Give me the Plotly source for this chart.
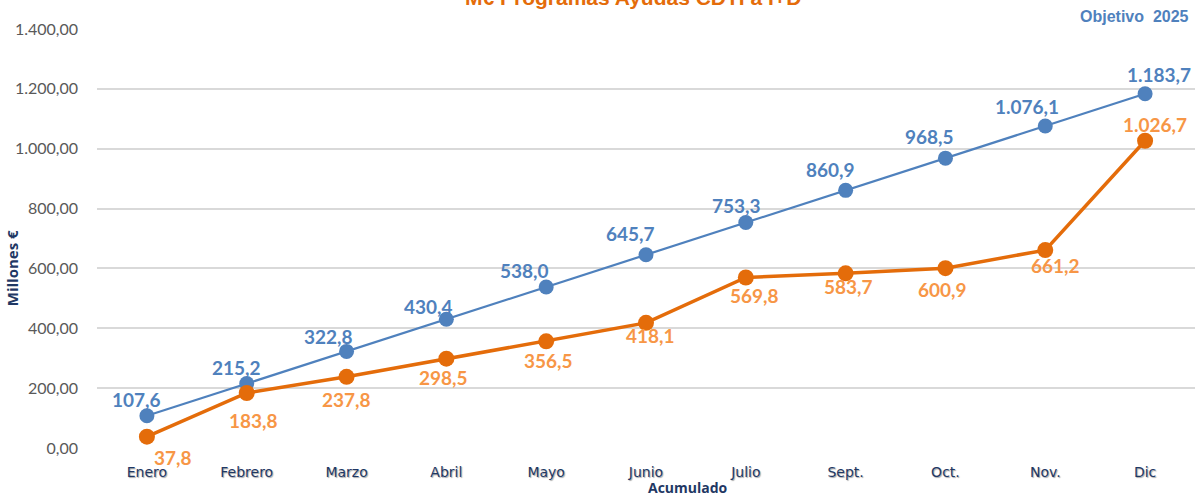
import plotly.graph_objects as go

# ── Data ─────────────────────────────────────────────────────────────────────
MONTHS = ["Enero", "Febrero", "Marzo", "Abril", "Mayo", "Junio",
          "Julio", "Sept.", "Oct.", "Nov.", "Dic"]
OBJETIVO = [107.6, 215.2, 322.8, 430.4, 538.0, 645.7,
            753.3, 860.9, 968.5, 1076.1, 1183.7]
ACUMULADO = [37.8, 183.8, 237.8, 298.5, 356.5, 418.1,
             569.8, 583.7, 600.9, 661.2, 1026.7]
Y_TICKS = [0, 200, 400, 600, 800, 1000, 1200, 1400]

# ── Style ────────────────────────────────────────────────────────────────────
BLUE = "#4F81BD"
ORANGE_LINE = "#E46C0A"
ORANGE_TEXT = "#F79646"
NAVY = "#1F3864"
GRID = "#D9D9D9"

# label offsets in px (dx, dy) to mimic the Excel label placement
BLUE_SHIFT = [(-10, 16), (-10, 16), (-18, 15), (-18, 13), (-22, 16), (-16, 21),
              (-9, 17), (-15, 21), (-16, 22), (-18, 19), (14, 19)]
ORANGE_SHIFT = [(26, -21), (7, -28), (0, -23), (-3, -19), (2, -19), (4, -13),
                (9, -18), (3, -13), (-3, -21), (10, -15), (10, 16)]


def fmt_es(v, dec=1):
    s = f"{v:,.{dec}f}"
    return s.replace(",", "X").replace(".", ",").replace("X", ".")


fig = go.Figure()

fig.add_trace(go.Scatter(
    x=MONTHS, y=OBJETIVO, mode="lines+markers",
    line=dict(color=BLUE, width=2.2),
    marker=dict(size=15, color=BLUE),
    hoverinfo="skip", showlegend=False,
))
fig.add_trace(go.Scatter(
    x=MONTHS, y=ACUMULADO, mode="lines+markers",
    line=dict(color=ORANGE_LINE, width=3.5),
    marker=dict(size=16, color=ORANGE_LINE),
    hoverinfo="skip", showlegend=False,
))

annotations = []
label_font = dict(family="Lato", size=19, color=BLUE, weight="bold")
for m, v, (dx, dy) in zip(MONTHS, OBJETIVO, BLUE_SHIFT):
    annotations.append(dict(x=m, y=v, text=fmt_es(v), showarrow=False,
                            xshift=dx, yshift=dy, font=label_font))
for m, v, (dx, dy) in zip(MONTHS, ACUMULADO, ORANGE_SHIFT):
    annotations.append(dict(x=m, y=v, text=fmt_es(v), showarrow=False,
                            xshift=dx, yshift=dy,
                            font=dict(label_font, color=ORANGE_TEXT)))

# title (clipped at the top as in the original), target note, axis titles
annotations += [
    dict(text="M€ Programas Ayudas CDTI a I+D", xref="paper", yref="paper",
         x=0.488, y=1.074, xanchor="center", yanchor="middle", showarrow=False,
         font=dict(family="Liberation Sans", size=21, color=ORANGE_LINE, weight="bold")),
    dict(text="Objetivo  2025", xref="paper", yref="paper",
         x=0.945, y=1.031, xanchor="center", yanchor="middle", showarrow=False,
         font=dict(family="Liberation Sans", size=16, color=BLUE, weight="bold")),
    dict(text="Millones €", xref="paper", yref="paper",
         x=-0.078, y=0.43, xanchor="center", yanchor="middle", showarrow=False,
         textangle=-90,
         font=dict(family="Open Sans", size=15, color=NAVY, weight="bold")),
    dict(text="Acumulado", xref="paper", yref="paper",
         x=0.538, y=-0.095, xanchor="center", yanchor="middle", showarrow=False,
         font=dict(family="Open Sans", size=14, color=NAVY, weight="bold")),
]

fig.update_layout(
    width=1197, height=494,
    margin=dict(l=97, r=2, t=29, b=46),
    paper_bgcolor="white", plot_bgcolor="white",
    separators=",.",
    annotations=annotations,
    xaxis=dict(
        type="category", range=[-0.5, 10.5],
        showgrid=False, showline=False, zeroline=False,
        ticks="", ticklabelstandoff=14,
        tickfont=dict(family="DejaVu Sans", size=14, color=NAVY,
                      shadow="1px 1px 1px rgba(0,0,0,0.35)"),
    ),
    yaxis=dict(
        range=[0, 1400], tickvals=Y_TICKS, tickformat=",.2f",
        showgrid=True, gridcolor=GRID, gridwidth=1.5,
        zeroline=False, showline=False, ticks="",
        ticklabelstandoff=18,
        tickfont=dict(family="Lato", size=16, color="#595959"),
    ),
)

# drop the default page margin so the chart sits at the window's corner
fig.write_html("out.html", config={"displayModeBar": False},
               post_script="document.body.style.margin='0';")
